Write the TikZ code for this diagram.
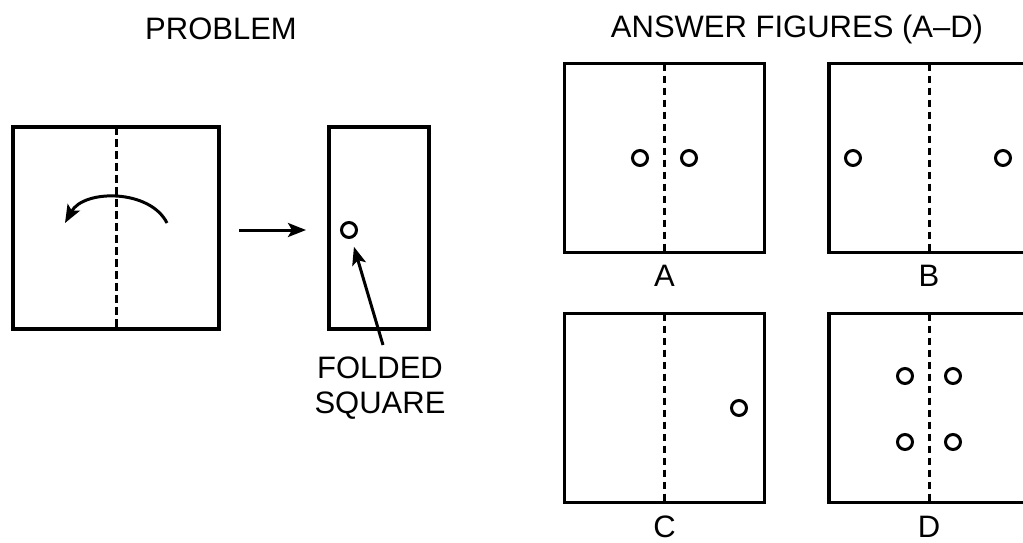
\documentclass[tikz,border=0pt]{standalone}
\usepackage{fontspec}
\setmainfont{Liberation Sans}
\usetikzlibrary{arrows.meta}
\tikzset{
  box/.style={draw, rectangle, line width=3.4pt, inner sep=0pt, outer sep=0pt},
  foldline/.style={line width=3pt, dash pattern=on 7.5pt off 4.5pt},
  hole/.style={draw, circle, line width=3pt, minimum size=15pt, inner sep=0pt, outer sep=0pt},
  arr/.style={line width=3pt, -{Stealth[length=18pt,width=14pt,inset=4pt]}},
  txt/.style={font=\fontsize{31}{36}\selectfont, inner sep=0pt, anchor=base},
}
\begin{document}
\begin{tikzpicture}[x=1pt,y=-1pt]
\useasboundingbox (0,0) rectangle (1023,542);
\begin{scope}
\clip (0,0) rectangle (1023,542);
% titles
\node[txt] (tprob) at (221,39) {PROBLEM};
\node[txt] (tans) at (797,37) {ANSWER FIGURES (A–D)};
% problem
\node[box, minimum width=206pt, minimum height=202pt] (prob) at (116,228) {};
\draw[foldline] (prob.north) -- (prob.south);
\coordinate (arcR) at (167,223);
\coordinate (arcL) at (65,223);
\draw[arr] (arcR) .. controls (150,189) and (84,189) .. (arcL);
\node[box, minimum width=100pt, minimum height=202pt] (folded) at (379,228) {};
\node[hole] (h0) at (349,230) {};
\draw[arr, shorten <=20pt, shorten >=23pt] (prob.east |- h0) -- (folded.west |- h0);
\node[txt] (lf1) at (380,378) {FOLDED};
\node[txt] (lf2) at (380,413) {SQUARE};
\coordinate (ptr) at (383,345);
\draw[arr, shorten >=10pt] (ptr) -- (h0);
% answer A
\node[box, minimum width=200pt, minimum height=189pt] (bA) at (664.5,158) {};
\draw[foldline] (bA.north) -- (bA.south);
\node[hole] (a1) at (640,158) {};
\node[hole] (a2) at (689,158) {};
\node[txt] (lA) at (664.5,286) {A};
% answer B
\node[box, minimum width=200pt, minimum height=189pt] (bB) at (929,158) {};
\draw[foldline] (bB.north) -- (bB.south);
\node[hole] (b1) at (853,158) {};
\node[hole] (b2) at (1003,158) {};
\node[txt] (lB) at (929,286) {B};
% answer C
\node[box, minimum width=200pt, minimum height=189pt] (bC) at (664.5,408) {};
\draw[foldline] (bC.north) -- (bC.south);
\node[hole] (c1) at (739,408) {};
\node[txt] (lC) at (664.5,537) {C};
% answer D
\node[box, minimum width=200pt, minimum height=189pt] (bD) at (929,408) {};
\draw[foldline] (bD.north) -- (bD.south);
\node[hole] (d1) at (905,376) {};
\node[hole] (d2) at (953,376) {};
\node[hole] (d3) at (905,442) {};
\node[hole] (d4) at (953,442) {};
\node[txt] (lD) at (929,537) {D};
\end{scope}
\end{tikzpicture}
\end{document}
